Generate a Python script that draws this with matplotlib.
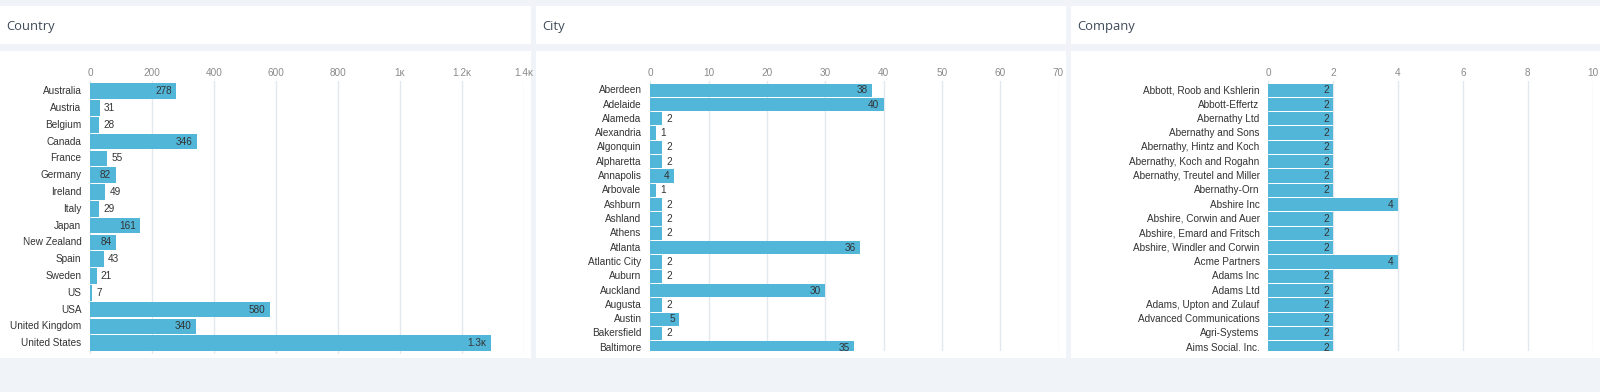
import matplotlib
matplotlib.use("Agg")
import matplotlib.pyplot as plt  # noqa: E402
from matplotlib.patches import Rectangle  # noqa: E402
from matplotlib.transforms import Bbox, TransformedBbox, offset_copy  # noqa: E402

W, H, DPI = 1600, 392, 100

# ── data ─────────────────────────────────────────────────────────────────────
country_names = ["Australia", "Austria", "Belgium", "Canada", "France", "Germany",
                 "Ireland", "Italy", "Japan", "New Zealand", "Spain", "Sweden", "US",
                 "USA", "United Kingdom", "United States"]
country_counts = [278, 31, 28, 346, 55, 82, 49, 29, 161, 84, 43, 21, 7, 580, 340, 1292]
country_ticks = [0, 200, 400, 600, 800, 1000, 1200, 1400]

city_names = ["Aberdeen", "Adelaide", "Alameda", "Alexandria", "Algonquin", "Alpharetta",
              "Annapolis", "Arbovale", "Ashburn", "Ashland", "Athens", "Atlanta",
              "Atlantic City", "Auburn", "Auckland", "Augusta", "Austin", "Bakersfield",
              "Baltimore"]
city_counts = [38, 40, 2, 1, 2, 2, 4, 1, 2, 2, 2, 36, 2, 2, 30, 2, 5, 2, 35]
city_ticks = [0, 10, 20, 30, 40, 50, 60, 70]

company_names = ["Abbott, Roob and Kshlerin", "Abbott-Effertz", "Abernathy Ltd",
                 "Abernathy and Sons", "Abernathy, Hintz and Koch",
                 "Abernathy, Koch and Rogahn", "Abernathy, Treutel and Miller",
                 "Abernathy-Orn", "Abshire Inc", "Abshire, Corwin and Auer",
                 "Abshire, Emard and Fritsch", "Abshire, Windler and Corwin",
                 "Acme Partners", "Adams Inc", "Adams Ltd", "Adams, Upton and Zulauf",
                 "Advanced Communications", "Agri-Systems", "Aims Social, Inc."]
company_counts = [2, 2, 2, 2, 2, 2, 2, 2, 4, 2, 2, 2, 4, 2, 2, 2, 2, 2, 2]
company_ticks = [0, 2, 4, 6, 8, 10]

# ── style ────────────────────────────────────────────────────────────────────
BG = "#f0f3f7"
BAR = "#52b6d9"
GRID = "#e3e8ee"
TICK = "#8a8a8a"
TEXT = "#333333"
TITLE = "#3f4a5a"
SANS = ["Liberation Sans", "DejaVu Sans"]
FS = 7.2

fig = plt.figure(figsize=(W / DPI, H / DPI), dpi=DPI, facecolor=BG)


def fbox(x0, y0, x1, y1):
    """pixel box (top-left origin) -> figure fraction [l, b, w, h]"""
    return [x0 / W, 1 - y1 / H, (x1 - x0) / W, (y1 - y0) / H]


def fmt(v):
    return f"{round(v / 100) / 10:g}\u1d0b" if v >= 1000 else str(v)


def panel(x0, x1, title):
    for y0, y1 in [(5.7, 43.9), (50.5, 357.5)]:
        l, b, w, h = fbox(x0, y0, x1, y1)
        fig.patches.append(Rectangle((l, b), w, h, transform=fig.transFigure,
                                     facecolor="white", edgecolor="none", zorder=-5))
    fig.text((x0 + 6) / W, 1 - 26.4 / H, title, family="Open Sans", fontsize=9.4,
             color=TITLE, va="center", ha="left")


def bar_chart(names, counts, ticks, x0, x1, y_top, y_bot, row0, step, clip_px):
    ax = fig.add_axes(fbox(x0, y_top, x1, y_bot))
    ax.set_facecolor("none")
    for s in ax.spines.values():
        s.set_visible(False)
    xmax = ticks[-1]
    ax.set_xlim(0, xmax)
    ax.set_ylim((y_bot - row0) / step, (y_top - row0) / step)
    ax.set_xticks(ticks)
    ax.set_xticklabels([fmt(t) for t in ticks], family=SANS, fontsize=FS, color=TICK)
    ax.get_xticklabels()[-1].set_ha("right")
    ax.xaxis.tick_top()
    ax.tick_params(axis="x", length=0, pad=2.5)
    ax.set_yticks([])
    ax.grid(axis="x", color=GRID, linewidth=1)
    ax.set_axisbelow(True)

    ys = list(range(len(names)))
    ax.barh(ys, counts, height=0.93, color=BAR, edgecolor="none", zorder=2)

    # names below the panel's scroll edge are cut off, like the bars
    clip = TransformedBbox(Bbox([[0, 1 - clip_px / H], [1, 1]]), fig.transFigure)
    name_tr = offset_copy(ax.get_yaxis_transform(), fig=fig, x=-8.8, units="dots")
    ppu = (x1 - x0) / xmax
    for y, name, v in zip(ys, names, counts):
        t = ax.text(0, y, name, transform=name_tr, ha="right", va="center",
                    family=SANS, fontsize=FS, color=TEXT)
        t.set_clip_path(None)
        t.set_clip_on(True)
        t.set_clip_box(clip)
        lab = fmt(v)
        inside = v * ppu >= 5.6 * len(lab) + 10
        dx = -4.4 if inside else 4.2
        tr = offset_copy(ax.transData, fig=fig, x=dx, units="dots")
        ax.text(v, y, lab, transform=tr, ha="right" if inside else "left", va="center",
                family=SANS, fontsize=FS, color=TEXT, clip_on=True, zorder=3)
    return ax


panel(0, 530.7, "Country")
panel(536.3, 1065.7, "City")
panel(1071.3, 1600, "Company")

bar_chart(country_names, country_counts, country_ticks, 90.2, 524, 81, 354,
          91.3, 16.79, 358)
bar_chart(city_names, city_counts, city_ticks, 650.3, 1058.5, 81, 351,
          90.2, 14.31, 351)
bar_chart(company_names, company_counts, company_ticks, 1268.4, 1592.5, 81, 351,
          90.2, 14.31, 351)

fig.savefig("out.png", dpi=DPI, facecolor=BG)
